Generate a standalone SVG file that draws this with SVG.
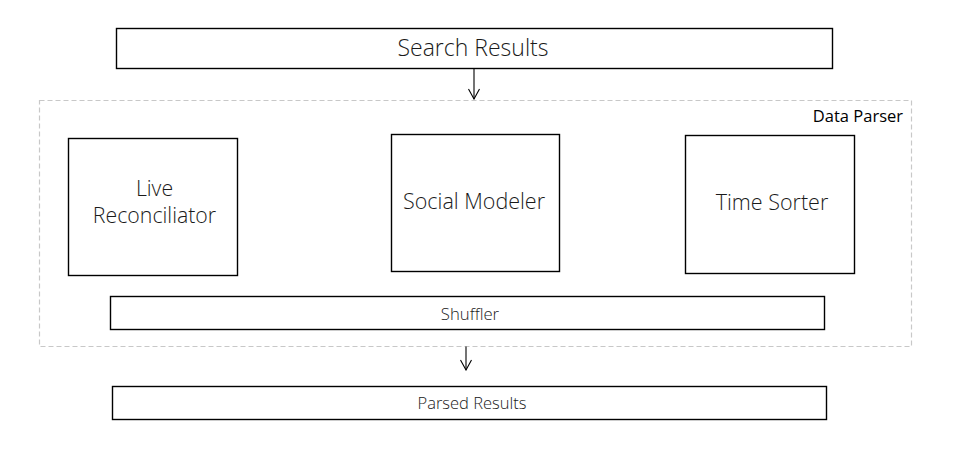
<svg xmlns="http://www.w3.org/2000/svg" width="961" height="474" viewBox="0 0 961 474">
<defs>
<style>
.box{fill:#fff;stroke:#000;stroke-width:1.4}
.cont{fill:none;stroke:#c8c8c8;stroke-width:1.2;stroke-dasharray:5,3}
.t{font-family:"Open Sans","Noto Sans",sans-serif;font-weight:300;fill:#1a1a1a;text-anchor:middle}
.edge{fill:none;stroke:#000;stroke-width:1.1}
</style>
<marker id="v" viewBox="0 0 12 12" refX="11" refY="6" markerWidth="12" markerHeight="12" markerUnits="userSpaceOnUse" orient="auto">
<path d="M1,0.5 L11,6 L1,11.5" fill="none" stroke="#000" stroke-width="1.1"/>
</marker>
</defs>
<rect width="961" height="474" fill="#fff"/>
<g id="search-results"><rect class="box" x="116.5" y="28.5" width="716" height="40"/><text class="t" x="473" y="56" font-size="23">Search Results</text></g>
<g id="data-parser"><rect class="cont" x="39.5" y="100.5" width="872" height="246"/><text x="903" y="121.5" font-family="'Open Sans','Noto Sans',sans-serif" font-size="16.5" fill="#000" text-anchor="end">Data Parser</text></g>
<g id="live-reconciliator"><rect class="box" x="68.5" y="138.5" width="169" height="137"/><text class="t" x="154.5" y="196" font-size="21.3">Live</text><text class="t" x="154.5" y="222.5" font-size="21.3">Reconciliator</text></g>
<g id="social-modeler"><rect class="box" x="391.5" y="134.5" width="168" height="137"/><text class="t" x="474" y="209" font-size="21.5">Social Modeler</text></g>
<g id="time-sorter"><rect class="box" x="685.5" y="135.5" width="169" height="138"/><text class="t" x="772" y="210" font-size="21.5">Time Sorter</text></g>
<g id="shuffler"><rect class="box" x="110.5" y="296.5" width="714" height="33"/><text class="t" x="470" y="319.5" font-size="16.7">Shuffler</text></g>
<g id="parsed-results"><rect class="box" x="112.5" y="386.5" width="714" height="33"/><text class="t" x="472" y="408.5" font-size="16.5">Parsed Results</text></g>
<g id="connectors">
<path class="edge" d="M474,68.5 V99" marker-end="url(#v)"/>
<path class="edge" d="M466,346.5 V370" marker-end="url(#v)"/>
</g>
</svg>
